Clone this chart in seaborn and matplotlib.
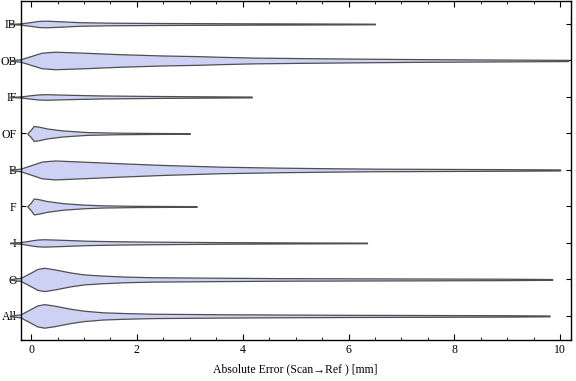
import numpy as np
import matplotlib
matplotlib.use("Agg")
import matplotlib.pyplot as plt
from matplotlib.ticker import MultipleLocator
import seaborn as sns

# categories, top to bottom
categories = ["IB", "OB", "IF", "OF", "B", "F", "I", "O", "All"]

# density profiles: error value [mm] and half-width (relative density)
ib_err = [-0.4, -0.2, 0.0, 0.15, 0.3, 0.6, 0.92, 1.5, 2.4, 4.0, 5.5, 6.5]
ib_dens = [0.2, 0.6, 2.0, 3.1, 3.3, 2.6, 1.8, 1.3, 1.0, 0.7, 0.5, 0.3]

ob_err = [-0.4, -0.2, 0.0, 0.2, 0.45, 1.0, 1.68, 2.5, 3.2, 3.57, 4.2, 5.08, 6.3, 7.0, 7.85, 9.0, 10.15]
ob_dens = [0.3, 1.2, 4.5, 7.8, 8.8, 7.8, 6.3, 5.0, 4.3, 3.7, 2.9, 2.4, 1.8, 1.5, 1.2, 0.9, 0.6]

if_err = [-0.4, -0.2, 0.0, 0.15, 0.3, 0.7, 1.36, 2.3, 3.2, 4.17]
if_dens = [0.2, 0.5, 1.8, 2.6, 2.8, 2.2, 1.5, 1.0, 0.7, 0.4]

of_err = [-0.07, -0.01, 0.05, 0.15, 0.3, 0.6, 1.06, 1.62, 2.3, 3.0]
of_dens = [0.3, 3.5, 7.5, 6.8, 5.0, 3.0, 1.4, 0.8, 0.5, 0.3]

b_err = [-0.4, -0.2, 0.0, 0.2, 0.45, 1.0, 1.68, 2.5, 3.57, 4.7, 5.5, 6.5, 8.0, 9.0, 10.0]
b_dens = [0.3, 1.3, 4.8, 8.4, 9.5, 8.3, 6.7, 5.0, 3.3, 2.3, 1.8, 1.3, 1.0, 0.8, 0.5]

f_err = [-0.07, -0.01, 0.05, 0.15, 0.3, 0.6, 1.0, 1.36, 2.0, 3.13]
f_dens = [0.3, 3.5, 8.0, 7.2, 5.4, 3.3, 1.8, 1.1, 0.6, 0.3]

i_err = [-0.4, -0.2, 0.0, 0.12, 0.25, 0.6, 1.06, 1.6, 2.3, 3.57, 5.0, 6.35]
i_dens = [0.3, 0.8, 2.5, 3.4, 3.7, 3.1, 2.2, 1.7, 1.3, 0.8, 0.5, 0.3]

o_err = [-0.4, -0.2, 0.0, 0.12, 0.25, 0.45, 0.74, 1.0, 1.36, 1.8, 2.3, 3.57, 4.7, 6.0, 7.5, 9.0, 9.85]
o_dens = [0.3, 1.5, 7.0, 10.5, 11.7, 10.0, 7.0, 5.0, 3.8, 2.8, 2.2, 1.7, 1.3, 1.1, 0.9, 0.7, 0.4]

all_err = [-0.4, -0.2, 0.0, 0.12, 0.25, 0.45, 0.74, 1.0, 1.36, 1.8, 2.3, 3.57, 4.7, 6.0, 7.5, 9.0, 9.8]
all_dens = [0.3, 1.5, 7.2, 10.6, 11.8, 10.2, 7.2, 5.2, 3.6, 2.8, 2.2, 1.7, 1.4, 1.1, 0.9, 0.7, 0.4]

profiles = {
    "IB": (ib_err, ib_dens), "OB": (ob_err, ob_dens), "IF": (if_err, if_dens),
    "OF": (of_err, of_dens), "B": (b_err, b_dens), "F": (f_err, f_dens),
    "I": (i_err, i_dens), "O": (o_err, o_dens), "All": (all_err, all_dens),
}

sns.set_style("ticks")
plt.rcParams['font.family'] = ['Liberation Serif', 'DejaVu Serif']
plt.rcParams['font.size'] = 8.5
for key in ['text.color', 'axes.labelcolor', 'xtick.color', 'ytick.color']:
    plt.rcParams[key] = 'black'

fig = plt.figure(figsize=(5.76, 3.81), dpi=100)
ax = fig.add_axes([20.7 / 576, 41 / 381, 550 / 576, 339 / 381])

width_scale = 1 / 36.6  # density units -> row spacing
for pos, cat in enumerate(categories):
    err, dens = profiles[cat]
    err = np.array(err)
    half = np.array(dens) * width_scale
    ax.fill_between(err, pos - half, pos + half, facecolor="#cdd1f3",
                    edgecolor="#4f4f4f", linewidth=0.9, clip_on=False, zorder=2)

ax.set_xlim(-0.197, 10.2)
ax.set_ylim(8.66, -0.63)
ax.set_yticks(range(len(categories)))
ax.set_yticklabels(categories)
ax.xaxis.set_major_locator(MultipleLocator(2))
ax.xaxis.set_minor_locator(MultipleLocator(0.5))
ax.tick_params(axis="x", which="major", direction="in", length=4, width=0.8,
               top=True, bottom=True, pad=3, labelsize=8.5)
ax.tick_params(axis="x", which="minor", direction="in", length=2.5, width=0.6,
               top=True, bottom=True)
ax.tick_params(axis="y", which="major", direction="in", length=3.5, width=0.8,
               left=True, right=True, pad=3, labelsize=8.5)
for s in ax.spines.values():
    s.set_linewidth(1.0)
    s.set_color("black")
    s.set_zorder(3)

ax.set_xlabel("Absolute Error (Scan\u2192Ref ) [mm]", fontsize=8.5, labelpad=5)

fig.savefig("out.png", dpi=100)
